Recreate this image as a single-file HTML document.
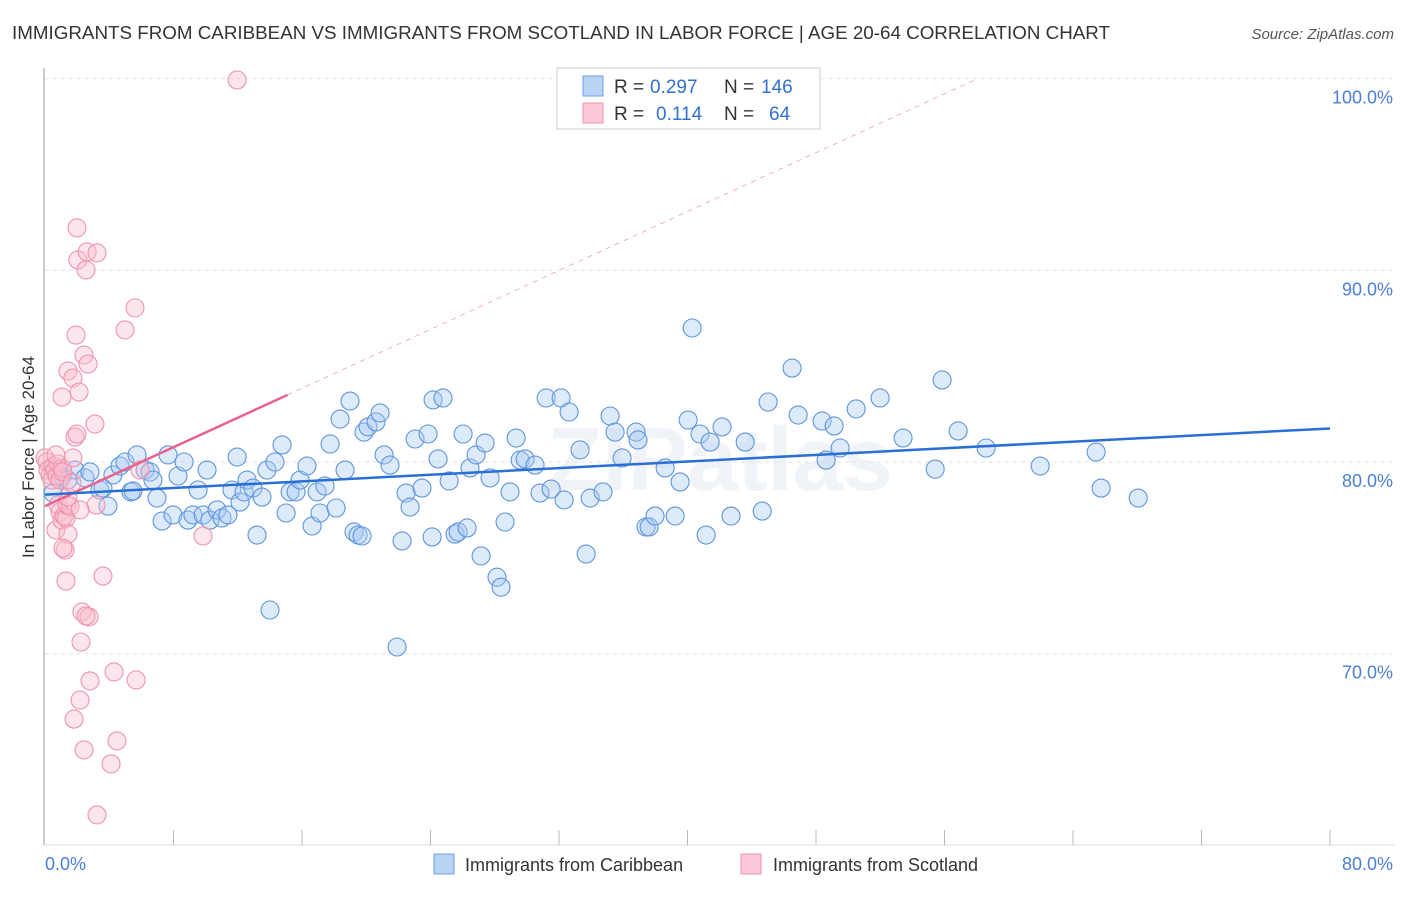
<!DOCTYPE html>
<html><head><meta charset="utf-8"><style>
body{margin:0;background:#fff;font-family:"Liberation Sans",sans-serif;}
svg text{font-family:"Liberation Sans",sans-serif;}
</style></head><body>
<svg id="chart" width="1406" height="892" xmlns="http://www.w3.org/2000/svg">
<text x="12" y="39" font-size="18" fill="#333" textLength="1098" lengthAdjust="spacingAndGlyphs">IMMIGRANTS FROM CARIBBEAN VS IMMIGRANTS FROM SCOTLAND IN LABOR FORCE | AGE 20-64 CORRELATION CHART</text>
<text x="1394" y="39" font-size="15" fill="#555" text-anchor="end" font-style="italic">Source: ZipAtlas.com</text>
<text x="720" y="490" font-size="90" fill="#e3eaf3" text-anchor="middle" font-weight="bold" opacity="0.5">ZIPatlas</text>
<g id="grid"></g>
<line x1="44" y1="68" x2="44" y2="845" stroke="#bbb" stroke-width="1.5"/>
<line x1="44" y1="845" x2="1394" y2="845" stroke="#ddd" stroke-width="1"/>
<g id="xticks"></g>
<text transform="translate(34,457) rotate(-90)" font-size="17" fill="#333" text-anchor="middle">In Labor Force | Age 20-64</text>
<text x="45" y="870" font-size="18" fill="#4a7fd6">0.0%</text>
<text x="1393" y="870" font-size="18" fill="#4a7fd6" text-anchor="end">80.0%</text>
<g id="pts"></g>
<g id="trends"></g>
<g>
<rect x="557" y="68" width="263" height="61" fill="#fff" stroke="#ccc"/>
<rect x="583" y="76" width="20" height="20" fill="#b9d3f5" stroke="#6f9fe0"/>
<rect x="583" y="103" width="20" height="20" fill="#fbc9d8" stroke="#ee93ae"/>
<text x="614" y="93" font-size="19" fill="#333">R =</text>
<text x="650" y="93" font-size="19" fill="#3370d4">0.297</text>
<text x="724" y="93" font-size="19" fill="#333">N =</text>
<text x="761" y="93" font-size="19" fill="#3370d4">146</text>
<text x="614" y="120" font-size="19" fill="#333">R =</text>
<text x="656" y="120" font-size="19" fill="#3370d4">0.114</text>
<text x="724" y="120" font-size="19" fill="#333">N =</text>
<text x="769" y="120" font-size="19" fill="#3370d4">64</text>
</g>
<rect x="434" y="854" width="20" height="20" fill="#b9d3f5" stroke="#6f9fe0"/>
<text x="465" y="871" font-size="18" fill="#333">Immigrants from Caribbean</text>
<rect x="741" y="854" width="20" height="20" fill="#fbc9d8" stroke="#ee93ae"/>
<text x="773" y="871" font-size="18" fill="#333">Immigrants from Scotland</text>
</svg>
<script>
const yTicks=[100,90,80,70];
const yTickLabels=["100.0%","90.0%","80.0%","70.0%"];
const xTickVals=[8,16,24,32,40,48,56,64,72,80];
const blueX=[0.5,0.81,1.06,1.43,1.87,2.49,2.8,3.42,3.61,3.92,4.23,4.67,4.98,5.35,5.48,5.73,6.23,6.54,6.72,6.97,7.29,7.66,7.97,8.28,8.66,8.9,9.21,9.53,9.84,10.09,10.27,10.71,11.02,11.39,11.64,11.96,12.14,12.39,12.58,12.95,13.2,13.51,13.82,14.01,14.32,14.76,15.01,15.26,15.63,15.88,16.31,16.63,16.94,17.12,17.43,17.75,18.12,18.37,18.68,18.99,19.24,19.49,19.74,19.86,20.11,20.61,20.86,21.11,21.48,21.92,22.23,22.48,22.73,23.04,23.47,23.85,24.1,24.16,24.47,24.78,25.16,25.53,25.72,26.03,26.28,26.46,26.84,27.15,27.4,27.71,28.14,28.39,28.64,28.95,29.33,29.58,29.89,30.51,30.82,31.2,31.51,32.13,32.32,32.63,33.31,33.69,33.94,34.74,35.18,35.49,35.93,36.8,36.92,37.42,37.61,37.98,38.61,39.23,39.54,40.04,40.29,40.78,41.16,41.41,42.15,42.71,43.59,44.65,45.02,46.51,46.89,48.38,48.63,49.13,49.5,50.5,51.99,53.42,55.42,55.85,56.85,58.59,61.96,65.44,65.75,68.06];
const blueY=[78.38,79.58,79.27,79.06,79.58,79.17,79.48,78.54,78.64,77.7,79.32,79.79,80,78.44,78.49,80.37,79.58,79.48,79.06,78.12,76.92,80.37,77.24,79.27,80,76.97,77.24,78.54,77.24,79.58,76.97,77.5,77.08,77.24,78.54,80.26,77.91,78.44,79.06,78.64,76.19,78.17,79.58,72.28,80,80.89,77.34,78.44,78.44,79.06,79.79,76.66,78.44,77.34,78.75,80.94,77.6,82.24,79.58,83.18,76.35,76.19,76.14,81.56,81.83,82.09,82.56,80.37,79.84,70.35,75.88,78.38,77.65,81.2,78.64,81.46,76.09,83.24,80.16,83.34,79.01,76.24,76.35,81.46,76.56,79.69,80.37,75.1,80.99,79.17,73.99,73.47,76.87,78.44,81.25,80.1,80.16,79.84,78.38,83.34,78.59,83.34,78.02,82.61,80.63,75.2,78.12,78.44,82.4,81.56,80.21,81.56,81.15,76.61,76.61,77.18,79.69,77.18,78.96,82.19,86.99,81.46,76.19,81.04,81.83,77.18,81.04,77.44,83.13,84.9,82.45,82.14,80.1,81.88,80.73,82.77,83.34,81.25,79.63,84.28,81.62,80.73,79.79,80.52,78.64,78.12];
const pinkX=[0,0.12,0.19,0.31,0.44,0.5,0.62,0.75,0.81,0.93,1.06,1.12,0.68,0.81,0.93,1.06,1.18,1.31,1.37,1.56,1.43,1.25,1.12,1.31,1.43,1.06,1.43,1.74,1.87,1.99,1.74,1.99,2.05,2.55,2.62,3.24,1.93,2.43,2.68,2.12,3.11,5.6,4.98,3.18,3.61,2.3,2.74,2.55,2.24,4.3,5.67,2.8,2.18,1.81,2.43,4.48,4.11,3.24,9.84,11.96,5.92,2.18,1.68,0.68];
const pinkY=[80.21,80,79.58,79.32,79.06,79.79,79.58,79.27,79.9,79.06,79.69,79.48,76.45,77.76,77.39,76.97,77.18,77.08,77.76,77.7,76.24,75.41,75.51,73.79,78.17,83.39,84.75,84.38,81.3,81.46,80.21,92.21,90.54,90.02,90.96,90.91,86.62,85.58,85.11,83.65,81.98,88.04,86.89,77.76,74.05,72.18,71.92,71.97,70.61,69.05,68.63,68.58,67.58,66.59,64.98,65.45,64.25,61.59,76.14,99.93,79.58,77.5,78.9,80.37];
const blueTrend=[78.3,81.75];
const pinkTrend=[77.7,83.5];
const pinkTrendEndX=15.1;

const NS="http://www.w3.org/2000/svg";
const xs=v=>45+v/80*1285;
const ys=v=>78.6+(100-v)*19.17;
function mk(tag,attrs,parent){const e=document.createElementNS(NS,tag);for(const k in attrs)e.setAttribute(k,attrs[k]);parent.appendChild(e);return e;}
const grid=document.getElementById('grid');
yTicks.forEach((t,i)=>{
  const l=mk('line',{x1:45,x2:1394,y1:ys(t),y2:ys(t),stroke:'#e2e2e2','stroke-dasharray':'4,4'},grid);
  
  
  const tx=mk('text',{x:1393,y:ys(t)+25,'font-size':18,fill:'#4a7fd6','text-anchor':'end'},grid);
  tx.textContent=yTickLabels[i];
  
  
});
const xt=document.getElementById('xticks');
xTickVals.forEach(t=>{
  const l=mk('line',{x1:xs(t),x2:xs(t),y1:830,y2:845,stroke:'#bbb'},xt);
  
  
});
const pts=document.getElementById('pts');
blueX.forEach((x,i)=>{
  const c=mk('circle',{cx:xs(x),cy:ys(blueY[i]),r:9,fill:'rgba(170,202,242,0.4)',stroke:'#5f95dc','stroke-width':1.1},pts);
  
  
});
pinkX.forEach((x,i)=>{
  const c=mk('circle',{cx:xs(x),cy:ys(pinkY[i]),r:9,fill:'rgba(249,190,208,0.4)',stroke:'#ee94ae','stroke-width':1.1},pts);
  
  
});
const tr=document.getElementById('trends');
const slope=(pinkTrend[1]-pinkTrend[0])/pinkTrendEndX;
const xEnd=(100-pinkTrend[0])/slope;
const pd=mk('line',{x1:xs(pinkTrendEndX),y1:ys(pinkTrend[1]),x2:xs(xEnd),y2:ys(100),stroke:'#f0b0c2','stroke-width':1,'stroke-dasharray':'5,5'},tr);


const pl=mk('line',{x1:xs(0),y1:ys(pinkTrend[0]),x2:xs(pinkTrendEndX),y2:ys(pinkTrend[1]),stroke:'#e8628c','stroke-width':2.5},tr);


const bl=mk('line',{x1:xs(0),y1:ys(blueTrend[0]),x2:xs(80),y2:ys(blueTrend[1]),stroke:'#2a6fd6','stroke-width':2.5},tr);


</script>
</body></html>
